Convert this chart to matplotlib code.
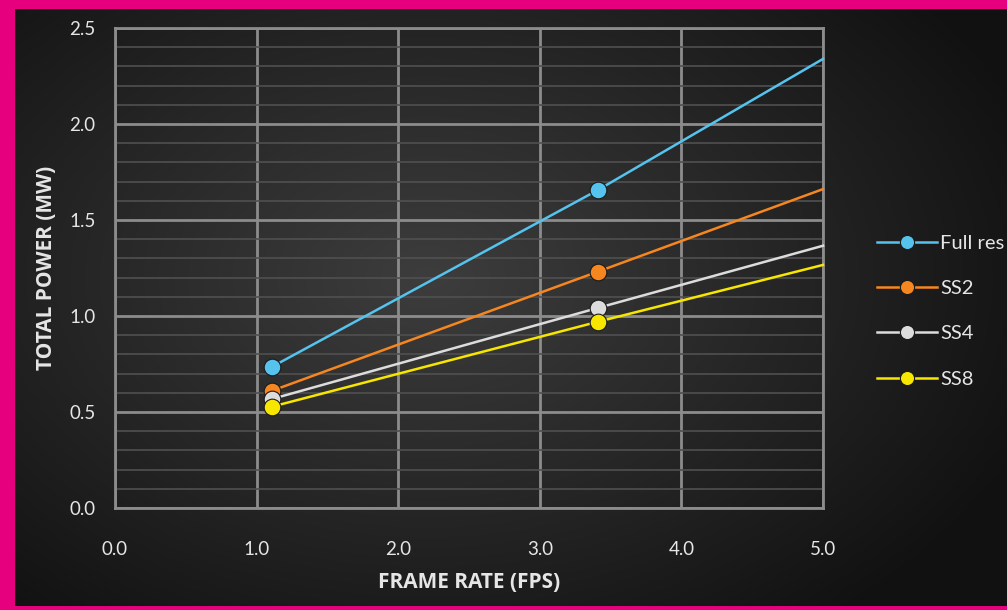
import numpy as np
import matplotlib.pyplot as plt
from matplotlib.ticker import MultipleLocator

# frame rate (FPS) vs total power (MW)
frame_rate = [1.11, 3.41, 5.0]
full_res = [0.736, 1.656, 2.339]
ss2 = [0.611, 1.231, 1.661]
ss4 = [0.568, 1.042, 1.366]
ss8 = [0.528, 0.970, 1.266]
series_names = ["Full res", "SS2", "SS4", "SS8"]
series_colors = ["#55c3ee", "#f6861f", "#dcdcdc", "#f7e600"]

x_ticks = [0.0, 1.0, 2.0, 3.0, 4.0, 5.0]
y_ticks = [0.0, 0.5, 1.0, 1.5, 2.0, 2.5]

plt.rcParams["font.family"] = ["Lato", "DejaVu Sans"]
text_col = "#e6e6e6"
bold_font = ["Open Sans", "DejaVu Sans"]

fig = plt.figure(figsize=(10.07, 6.10), dpi=100)
fig.patch.set_facecolor("#e6007e")

# dark radial gradient panel inside the magenta frame (runs off the right edge)
bg = fig.add_axes([15 / 1007, 4 / 610, 1.0, 597 / 610])
bg.set_axis_off()
yy, xx = np.mgrid[0:1:300j, 0:1:600j]
r = np.sqrt(((xx - 0.41) / 0.75) ** 2 + ((yy - 0.45) / 0.85) ** 2)
shade = np.clip(0.24 - 0.2 * r, 0.07, 0.24)
bg.imshow(np.dstack([shade, shade, shade]), aspect="auto", extent=[0, 1, 0, 1])

ax = fig.add_axes([115 / 1007, 1 - 508 / 610, 708 / 1007, 480 / 610])
ax.patch.set_alpha(0)
ax.set_xlim(0, 5)
ax.set_ylim(0, 2.5)
ax.set_xticks(x_ticks)
ax.set_yticks(y_ticks)
ax.set_xticklabels([f"{v:.1f}" for v in x_ticks])
ax.set_yticklabels([f"{v:.1f}" for v in y_ticks])
ax.yaxis.set_minor_locator(MultipleLocator(0.1))
ax.grid(which="major", color="#8c8c8c", linewidth=2.0)
ax.grid(which="minor", axis="y", color="#505050", linewidth=1.2)
ax.set_axisbelow(True)
for s in ax.spines.values():
    s.set_color("#8c8c8c")
    s.set_linewidth(2.0)
ax.tick_params(which="both", length=0, colors=text_col, labelsize=13.5)
ax.tick_params(axis="x", pad=24)
ax.tick_params(axis="y", pad=14)

all_series = [full_res, ss2, ss4, ss8]
for vals, name, col in zip(all_series, series_names, series_colors):
    ax.plot(frame_rate, vals, color=col, linewidth=1.8, marker="o",
            markersize=12, markevery=[0, 1], markerfacecolor=col,
            markeredgecolor="#1a1a1a", markeredgewidth=0.8,
            label=name, clip_on=False, zorder=3)

ax.set_xlabel("FRAME RATE (FPS)", color=text_col, fontsize=15,
              fontweight="bold", family=bold_font, labelpad=10)
ax.set_ylabel("TOTAL POWER (MW)", color=text_col, fontsize=15,
              fontweight="bold", family=bold_font, labelpad=9)

leg = ax.legend(loc="center left", bbox_to_anchor=(1.05, 0.41), frameon=False,
                labelspacing=1.4, handlelength=3.0, handletextpad=0.15,
                fontsize=14.5, labelcolor=text_col, markerscale=0.85)

fig.savefig("out.png", dpi=100, facecolor=fig.get_facecolor())
